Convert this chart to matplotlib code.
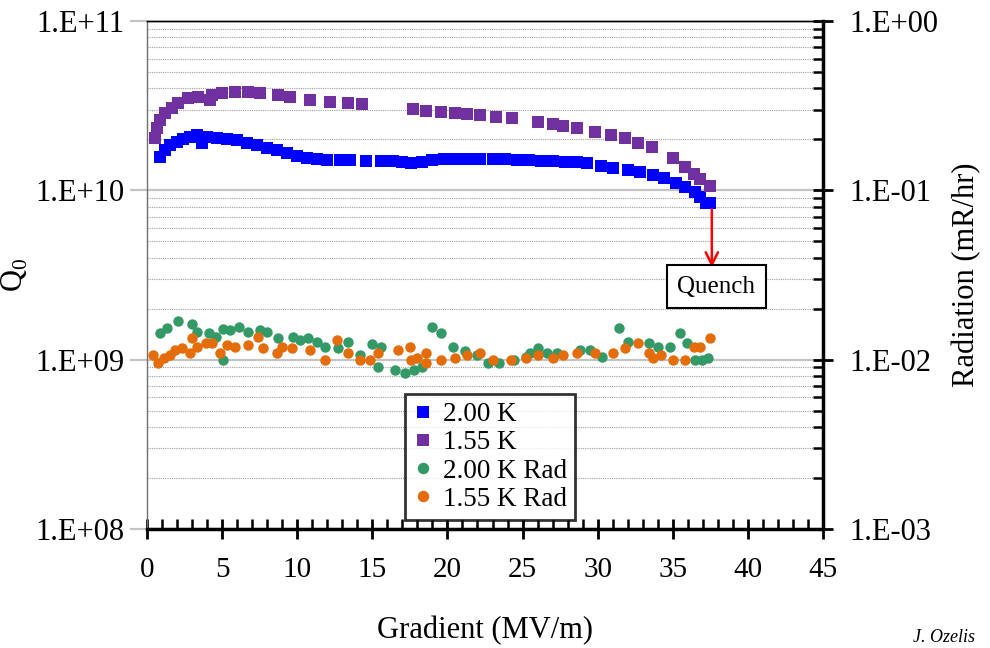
import numpy as np
import matplotlib
matplotlib.use("Agg")
import matplotlib.pyplot as plt
from matplotlib.ticker import FixedLocator, MultipleLocator, NullFormatter

plt.rcParams['font.family'] = ['Liberation Serif', 'DejaVu Serif']

# Q0 at 2.00 K
grad_200 = [0.87, 1.2, 1.53, 2.0, 2.4, 2.86, 3.3, 3.66, 4.0, 4.66, 5.3, 6.0, 6.66, 7.3,
            8.0, 8.66, 9.3, 10.0, 10.65, 11.3, 12.0, 12.85, 13.5, 14.6, 15.6, 16.4,
            17.0, 17.6, 18.3, 19.0, 19.8, 20.6, 21.4, 22.2, 23.0, 23.8, 24.6, 25.4,
            26.2, 27.0, 27.8, 28.6, 29.3, 30.2, 31.0, 32.0, 32.8, 33.7, 34.4, 35.2,
            35.8, 36.5, 36.8, 37.2, 37.5]
q0_200 = [1.57e10, 1.73e10, 1.85e10, 1.93e10, 2.0e10, 2.06e10, 2.12e10, 1.9e10, 2.06e10,
          2.05e10, 2.02e10, 1.98e10, 1.9e10, 1.86e10, 1.78e10, 1.72e10, 1.66e10, 1.6e10,
          1.56e10, 1.53e10, 1.52e10, 1.52e10, 1.51e10, 1.5e10, 1.5e10, 1.49e10, 1.47e10,
          1.45e10, 1.48e10, 1.51e10, 1.53e10, 1.53e10, 1.53e10, 1.53e10, 1.53e10, 1.53e10,
          1.52e10, 1.51e10, 1.5e10, 1.49e10, 1.48e10, 1.47e10, 1.45e10, 1.4e10, 1.36e10,
          1.32e10, 1.28e10, 1.23e10, 1.18e10, 1.1e10, 1.05e10, 9.8e9, 9.1e9, 8.4e9, 8.4e9]

# Q0 at 1.55 K
grad_155 = [0.53, 0.67, 0.87, 1.2, 1.66, 2.06, 2.73, 3.4, 4.2, 4.3, 5.0, 5.86, 6.7, 7.5,
            8.7, 9.5, 10.85, 12.2, 13.4, 14.3, 17.7, 18.6, 19.6, 20.5, 21.3, 22.2, 23.2,
            24.3, 26.0, 27.0, 27.7, 28.6, 29.8, 30.9, 31.8, 32.7, 33.6, 35.0, 35.8, 36.4,
            36.8, 37.5]
q0_155 = [2.04e10, 2.33e10, 2.6e10, 2.86e10, 3.06e10, 3.27e10, 3.5e10, 3.55e10, 3.4e10,
          3.65e10, 3.75e10, 3.8e10, 3.8e10, 3.75e10, 3.65e10, 3.55e10, 3.43e10, 3.33e10,
          3.27e10, 3.23e10, 3.02e10, 2.95e10, 2.9e10, 2.86e10, 2.83e10, 2.79e10, 2.7e10,
          2.67e10, 2.53e10, 2.47e10, 2.4e10, 2.33e10, 2.22e10, 2.13e10, 2.05e10, 1.9e10,
          1.8e10, 1.55e10, 1.37e10, 1.25e10, 1.16e10, 1.06e10]

# radiation at 2.00 K (mR/hr)
grad_rad_200 = [0.87, 1.33, 2.06, 3.0, 3.3, 4.1, 4.6, 5.06, 5.06, 5.5, 6.1, 6.7, 7.5, 8.0,
                8.7, 9.7, 10.2, 10.7, 11.3, 11.85, 12.7, 13.4, 14.2, 15.0, 15.4, 15.6, 16.5,
                17.2, 17.8, 18.3, 19.0, 19.6, 20.4, 21.2, 22.0, 22.7, 23.4, 24.4, 25.2, 25.5,
                26.0, 26.6, 27.3, 28.8, 29.5, 30.3, 31.4, 32.0, 33.4, 34.0, 34.8, 35.5,
                35.95, 36.5, 36.95, 37.35]
rad_200 = [1.44e-2, 1.53e-2, 1.69e-2, 1.62e-2, 1.45e-2, 1.44e-2, 1.36e-2, 1.0e-2, 1.51e-2,
           1.49e-2, 1.56e-2, 1.46e-2, 1.49e-2, 1.46e-2, 1.34e-2, 1.36e-2, 1.3e-2, 1.34e-2,
           1.27e-2, 1.19e-2, 1.17e-2, 1.27e-2, 1.07e-2, 1.23e-2, 9.0e-3, 1.19e-2, 8.7e-3,
           8.4e-3, 8.7e-3, 9.0e-3, 1.56e-2, 1.44e-2, 1.19e-2, 1.12e-2, 1.07e-2, 9.5e-3,
           9.5e-3, 1.0e-2, 1.04e-2, 1.1e-2, 1.17e-2, 1.1e-2, 1.1e-2, 1.14e-2, 1.14e-2,
           1.04e-2, 1.53e-2, 1.27e-2, 1.25e-2, 1.19e-2, 1.19e-2, 1.44e-2, 1.25e-2, 1.0e-2,
           1.0e-2, 1.03e-2]

# radiation at 1.55 K (mR/hr)
grad_rad_155 = [0.42, 0.75, 1.1, 1.5, 1.85, 2.3, 2.85, 3.0, 3.3, 3.9, 4.3, 4.85, 5.3, 5.85,
                6.7, 7.4, 7.7, 8.65, 9.0, 9.65, 10.85, 11.85, 12.65, 13.4, 14.2, 14.85, 15.4,
                16.7, 17.5, 17.6, 18.0, 18.6, 18.6, 19.6, 20.5, 21.3, 22.2, 23.0, 24.2, 25.2,
                26.0, 27.0, 27.7, 28.6, 29.8, 31.0, 31.8, 32.7, 33.4, 33.7, 34.2, 35.0, 35.8,
                36.4, 36.8, 37.5]
rad_155 = [1.06e-2, 9.5e-3, 1.03e-2, 1.06e-2, 1.14e-2, 1.17e-2, 1.1e-2, 1.34e-2, 1.19e-2,
           1.25e-2, 1.25e-2, 1.1e-2, 1.22e-2, 1.19e-2, 1.22e-2, 1.36e-2, 1.17e-2, 1.1e-2,
           1.19e-2, 1.17e-2, 1.14e-2, 1.0e-2, 1.3e-2, 1.1e-2, 1.0e-2, 1.0e-2, 1.1e-2,
           1.14e-2, 1.19e-2, 1.0e-2, 1.03e-2, 1.1e-2, 9.5e-3, 1.0e-2, 1.03e-2, 1.06e-2,
           1.1e-2, 1.0e-2, 1.0e-2, 1.03e-2, 1.06e-2, 1.03e-2, 1.06e-2, 1.1e-2, 1.1e-2,
           1.1e-2, 1.17e-2, 1.25e-2, 1.1e-2, 1.03e-2, 1.06e-2, 1.0e-2, 1.0e-2, 1.19e-2,
           1.19e-2, 1.34e-2]

q_ticks = [1e8, 1e9, 1e10, 1e11]
q_labels = ['1.E+08', '1.E+09', '1.E+10', '1.E+11']
rad_ticks = [1e-3, 1e-2, 1e-1, 1e0]
rad_labels = ['1.E-03', '1.E-02', '1.E-01', '1.E+00']

fig = plt.figure(figsize=(9.9, 6.48), dpi=100)
ax = fig.add_axes([0.1485, 0.1836, 0.6828, 0.784])
ax2 = ax.twinx()

ax.set_xlim(0, 45)
ax.set_yscale('log')
ax.set_ylim(1e8, 1e11)
ax2.set_yscale('log')
ax2.set_ylim(1e-3, 1e0)

# horizontal grid: solid at decades, dotted at minor
minor_vals = [m * 10.0 ** e for e in range(8, 11) for m in range(2, 10)]
for v in q_ticks:
    ax.axhline(v, color='#c4c4c4', lw=1.6, zorder=0)
for v in minor_vals:
    ax.axhline(v, color='#a0a0a0', lw=0.8, ls=(0, (1, 1)), zorder=0)

l1, = ax2.plot(grad_200, [q / 1e11 for q in q0_200], 's', color='#0000ff', ms=8,
               mew=0, label='2.00 K')
l2, = ax2.plot(grad_155, [q / 1e11 for q in q0_155], 's', color='#7030a0', ms=8.5,
               mew=0, label='1.55 K')
l3, = ax2.plot(grad_rad_200, rad_200, 'o', color='#339966', ms=7.5, mew=0,
               label='2.00 K Rad')
l4, = ax2.plot(grad_rad_155, rad_155, 'o', color='#e46c0a', ms=7.5, mew=0,
               label='1.55 K Rad')

# quench arrow and box
ax2.annotate('', xy=(37.6, 3.38e-2), xytext=(37.6, 8.0e-2),
             arrowprops=dict(arrowstyle='->', color='red', lw=1.8,
                             mutation_scale=22))
ax2.text(37.9, 2.69e-2, 'Quench', fontsize=18, ha='center', va='center',
         bbox=dict(boxstyle='square,pad=0.42', fc='white', ec='black', lw=1.5))

# ticks
ax.xaxis.set_major_locator(MultipleLocator(5))
ax.xaxis.set_minor_locator(MultipleLocator(1))
ax.tick_params(axis='x', which='major', direction='inout', length=14, width=2,
               labelsize=21, pad=13)
ax.tick_params(axis='x', which='minor', direction='in', length=7, width=1.8)
ax.yaxis.set_major_locator(FixedLocator(q_ticks))
ax.yaxis.set_minor_locator(FixedLocator([]))
ax.set_yticklabels(q_labels)
ax.tick_params(axis='y', which='major', direction='out', length=12, width=1.6,
               color='#c4c4c4', labelcolor='black', labelsize=22, pad=4)

ax2.yaxis.set_major_locator(FixedLocator(rad_ticks))
ax2.set_yticklabels(rad_labels)
ax2.yaxis.set_minor_locator(FixedLocator([m * 10.0 ** e for e in range(-3, 0)
                                          for m in range(2, 10)]))
ax2.yaxis.set_minor_formatter(NullFormatter())
ax2.tick_params(axis='y', which='major', direction='inout', length=14, width=2,
                labelsize=22, pad=12)
ax2.tick_params(axis='y', which='minor', direction='in', length=7, width=1.8)

for a in (ax, ax2):
    a.spines['right'].set_visible(False)
    a.spines['top'].set_linewidth(1.0)
ax2.spines['right'].set_visible(True)
ax2.spines['right'].set_linewidth(2.5)
ax.spines['bottom'].set_linewidth(2.5)
ax2.spines['bottom'].set_visible(False)
ax2.spines['left'].set_visible(False)
ax.spines['left'].set_color('#707070')
ax.spines['left'].set_linewidth(1.0)

ax.set_xlabel('Gradient (MV/m)', fontsize=22, labelpad=24)
ax.set_ylabel(r'Q$_\mathregular{0}$', fontsize=22, labelpad=4)
ax2.set_ylabel('Radiation (mR/hr)', fontsize=22, labelpad=10)

leg = ax2.legend(handles=[l1, l2, l3, l4], loc='lower left',
                 bbox_to_anchor=(0.382, 0.018), fontsize=19.5, frameon=True,
                 fancybox=False, borderpad=0.3, labelspacing=0.12,
                 handlelength=0.7, handletextpad=0.4, borderaxespad=0,
                 markerscale=1.1)
leg.get_frame().set_edgecolor('black')
leg.get_frame().set_linewidth(2.0)

fig.text(0.985, 0.003, 'J. Ozelis', fontsize=13, style='italic',
         ha='right', va='bottom')

fig.savefig('out.png', dpi=100)
